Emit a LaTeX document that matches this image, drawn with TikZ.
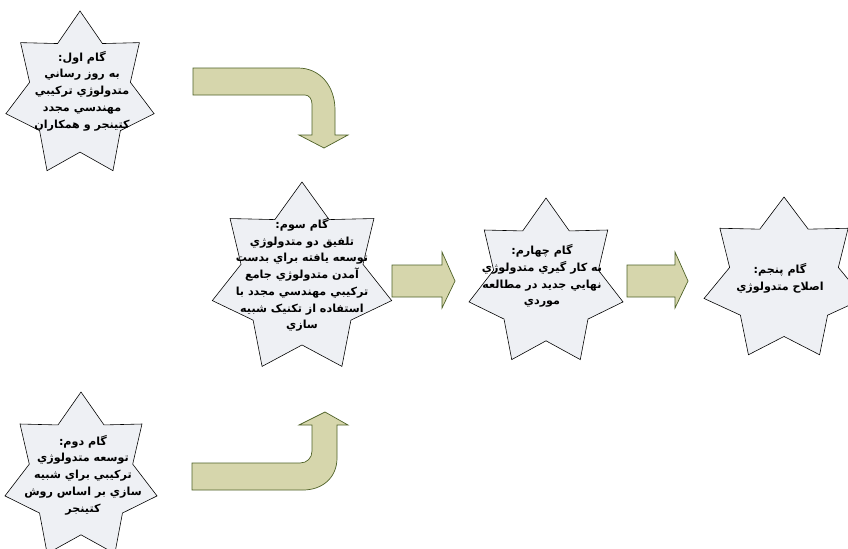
\documentclass[tikz,border=0pt]{standalone}
\usepackage{fontspec}
\TeXXeTstate=1
\newfontfamily\fafont[Script=Arabic]{DejaVu Sans}
\definecolor{starfill}{RGB}{238,240,244}
\definecolor{arrowfill}{RGB}{214,214,172}
\definecolor{arrowline}{RGB}{79,98,40}
% seven pointed star: centre x, centre y, radius x, radius y
\newcommand{\stepstar}[4]{%
  \filldraw[starshape] plot[samples at={0,...,13},variable=\k]
    ({#1+#3*cos(90+\k*180/7)*(mod(\k,2)==0?1:0.68)},{#2-#4*sin(90+\k*180/7)*(mod(\k,2)==0?1:0.68)}) -- cycle;}
\begin{document}
\begin{tikzpicture}[x=0.03cm,y=-0.03cm,starshape/.style={draw=black,fill=starfill,line width=0.5pt,line join=miter},steptext/.style={align=center,font=\fafont\bfseries\fontsize{9.5}{14.3}\selectfont,inner sep=0pt},blockarrow/.style={draw=arrowline,fill=arrowfill,line width=0.6pt,line join=miter}]
\useasboundingbox (0,0) rectangle (848,548);
\clip (0,0) rectangle (848,548);
\fill[white] (0,0) rectangle (848,548);
% stars
\stepstar{80}{95}{76}{84}
\stepstar{81}{477}{78}{85}
\stepstar{302}{279}{92}{97}
\stepstar{546}{283}{79}{85}
\stepstar{784}{280}{82}{83}
\node[steptext] (s1) at (82,91) {\beginR گام اول:\endR\\\beginR به روز رساني\endR\\\beginR متدولوژي ترکيبي\endR\\\beginR مهندسي مجدد\endR\\\beginR کتينجر و همکاران\endR};
\node[steptext] (s2) at (83,475) {\beginR گام دوم:\endR\\\beginR توسعه متدولوژي\endR\\\beginR ترکيبي براي شبيه\endR\\\beginR سازي بر اساس روش\endR\\\beginR کتينجر\endR};
\node[steptext] (s3) at (302,275) {\beginR گام سوم:\endR\\\beginR تلفيق دو متدولوژي\endR\\\beginR توسعه يافته  براي بدست\endR\\\beginR آمدن متدولوژي جامع\endR\\\beginR ترکيبي مهندسي مجدد با\endR\\\beginR استفاده از تکنيک شبيه\endR\\\beginR سازي\endR};
\node[steptext] (s4) at (542,276) {\beginR گام چهارم:\endR\\\beginR به کار گيري متدولوژي\endR\\\beginR نهايي جديد در مطالعه\endR\\\beginR موردي\endR};
\node[steptext] (s5) at (780,278) {\beginR گام پنجم:\endR\\\beginR اصلاح متدولوژي\endR};
% block arrows
\filldraw[blockarrow] (193,68) -- (298,68) .. controls (320,68) and (335,86) .. (335,110) -- (335,135) -- (348,135) -- (324,148) -- (299,135) -- (312,135) -- (312,104) .. controls (312,99) and (309,95) .. (305,95) -- (193,95) -- cycle;
\filldraw[blockarrow] (192,490) -- (303,490) .. controls (322,490) and (337,478) .. (337,458) -- (337,425) -- (348,425) -- (325,412) -- (299,425) -- (312,425) -- (312,451) .. controls (312,458) and (307,463) .. (300,463) -- (192,463) -- cycle;
\filldraw[blockarrow] (392,265) -- (442,265) -- (442,252) -- (455,281) -- (442,308) -- (442,297) -- (392,297) -- cycle;
\filldraw[blockarrow] (627,265) -- (675,265) -- (675,252) -- (688,281) -- (675,308) -- (675,297) -- (627,297) -- cycle;
\end{tikzpicture}
\end{document}
